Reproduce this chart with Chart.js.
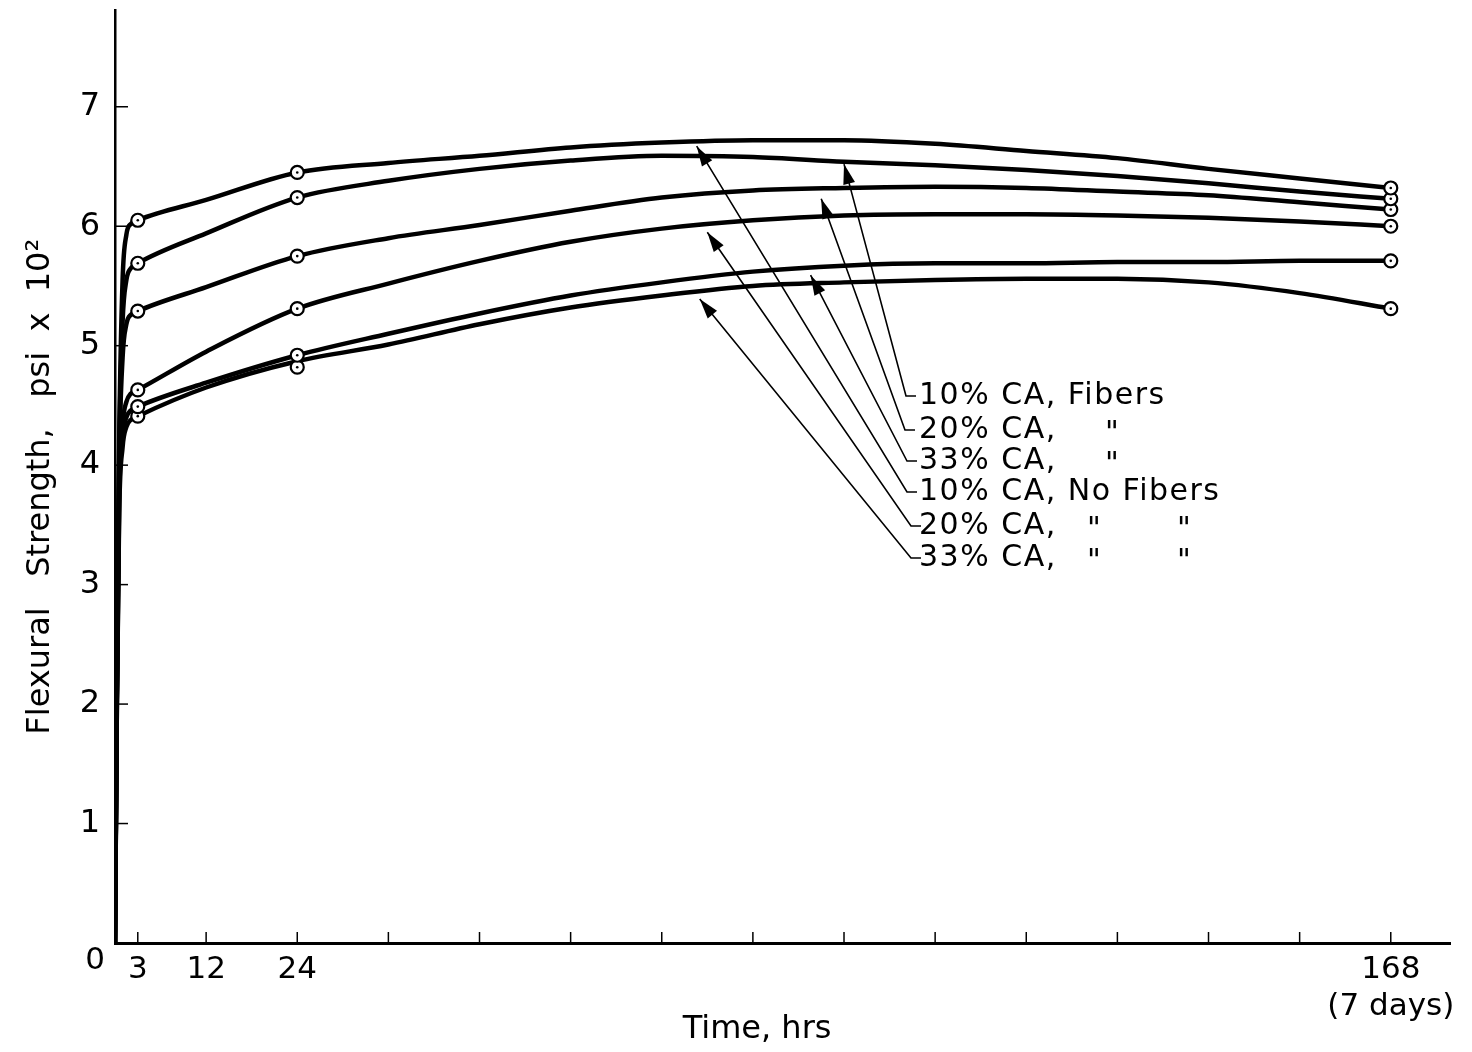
<!DOCTYPE html>
<html>
<head>
<meta charset="utf-8">
<script src="https://cdn.jsdelivr.net/npm/chart.js@4.4.0/dist/chart.umd.min.js"></script>
<style>
  html, body { margin: 0; padding: 0; background: #fff; }
  #wrap { width: 1472px; height: 1052px; }
</style>
</head>
<body>
<div id="wrap"><canvas id="flexChart" width="1472" height="1052"></canvas></div>
<script>
const curveHours = [0, 0.25, 0.55, 1.0, 1.5, 2.1, 3, 12, 24, 36, 48, 60, 72, 84, 96, 108, 120, 132, 144, 156, 168];
// hours of the measured points (circles)
const pointHours = [3, 24, 168];

const xTickHours = [0, 3, 12, 24, 36, 48, 60, 72, 84, 96, 108, 120, 132, 144, 156, 168];
const yTickValues = [0, 1, 2, 3, 4, 5, 6, 7];

// flexural strength, psi x 10^2
const ca10NoFibersCurve = [0, 2.2, 4.2, 5.55, 5.93, 6.02, 6.05, 6.22, 6.45, 6.53, 6.59, 6.66, 6.70, 6.72, 6.72, 6.69, 6.63, 6.57, 6.48, 6.40, 6.32];
const ca10FibersCurve   = [0, 2.2, 4.1, 5.2, 5.55, 5.65, 5.69, 5.94, 6.24, 6.38, 6.48, 6.55, 6.59, 6.58, 6.54, 6.51, 6.47, 6.42, 6.36, 6.29, 6.23];
const ca20FibersCurve   = [0, 2.2, 4.0, 4.9, 5.18, 5.26, 5.29, 5.49, 5.75, 5.90, 6.01, 6.13, 6.24, 6.30, 6.32, 6.33, 6.32, 6.29, 6.26, 6.20, 6.14];
const ca20NoFibersCurve = [0, 2.1, 3.8, 4.35, 4.53, 4.60, 4.63, 4.95, 5.31, 5.52, 5.71, 5.87, 5.98, 6.05, 6.09, 6.10, 6.10, 6.09, 6.07, 6.04, 6.00];
const ca33FibersCurve   = [0, 2.0, 3.7, 4.25, 4.40, 4.46, 4.49, 4.69, 4.92, 5.10, 5.27, 5.42, 5.53, 5.62, 5.67, 5.69, 5.69, 5.70, 5.70, 5.71, 5.71];
const ca33NoFibersCurve = [0, 2.0, 3.6, 4.15, 4.32, 4.38, 4.41, 4.65, 4.87, 5.01, 5.18, 5.32, 5.42, 5.50, 5.53, 5.55, 5.56, 5.56, 5.53, 5.44, 5.31];

const ca10NoFibersPts = [6.05, 6.45, 6.32];
const ca10FibersPts   = [5.69, 6.24, 6.23];
const ca20FibersPts   = [5.29, 5.75, 6.14];
const ca20NoFibersPts = [4.63, 5.31, 6.00];
const ca33FibersPts   = [4.49, 4.92, 5.71];
const ca33NoFibersPts = [4.41, 4.82, 5.31];

// legend rows, top to bottom, and where each arrow points (hours, value)
const legendText = ["10% CA, Fibers", "20% CA,", "33% CA,", "10% CA, No Fibers", "20% CA,", "33% CA,"];
const arrowTargets = [[96, 6.52], [93, 6.23], [91.6, 5.59], [76.6, 6.67], [78, 5.95], [77, 5.39]];

const series = [
  { curve: ca10NoFibersCurve, pts: ca10NoFibersPts },
  { curve: ca10FibersCurve, pts: ca10FibersPts },
  { curve: ca20FibersCurve, pts: ca20FibersPts },
  { curve: ca20NoFibersCurve, pts: ca20NoFibersPts },
  { curve: ca33FibersCurve, pts: ca33FibersPts },
  { curve: ca33NoFibersCurve, pts: ca33NoFibersPts }
];

const FONT = '"DejaVu Sans", sans-serif';

const datasets = [];
series.forEach((s) => {
  datasets.push({
    data: curveHours.map((h, i) => ({ x: h, y: s.curve[i] })),
    borderColor: "#000",
    borderWidth: 4.5,
    pointRadius: 0,
    cubicInterpolationMode: "monotone",
    fill: false,
    order: 3
  });
  datasets.push({
    data: pointHours.map((h, i) => ({ x: h, y: s.pts[i] })),
    showLine: false,
    pointRadius: 6.5,
    pointBorderWidth: 2.2,
    pointBackgroundColor: "#fff",
    pointBorderColor: "#000",
    order: 2
  });
  datasets.push({
    data: pointHours.map((h, i) => ({ x: h, y: s.pts[i] })),
    showLine: false,
    pointRadius: 1.3,
    pointBorderWidth: 0,
    pointBackgroundColor: "#000",
    order: 1
  });
});

// short ticks pointing into the plot + the origin "0"
const innerTicks = {
  id: "innerTicks",
  afterDraw(chart) {
    const { ctx, scales: { x, y } } = chart;
    ctx.save();
    ctx.strokeStyle = "#000";
    ctx.lineWidth = 1.5;
    xTickHours.slice(1).forEach((h) => {
      const px = x.getPixelForValue(h);
      ctx.beginPath();
      ctx.moveTo(px, y.bottom);
      ctx.lineTo(px, y.bottom - 11);
      ctx.stroke();
    });
    yTickValues.slice(1).forEach((v) => {
      const py = y.getPixelForValue(v);
      ctx.beginPath();
      ctx.moveTo(x.left, py);
      ctx.lineTo(x.left + 13, py);
      ctx.stroke();
    });
    ctx.fillStyle = "#000";
    ctx.font = "31px " + FONT;
    ctx.textAlign = "center";
    ctx.textBaseline = "middle";
    ctx.fillText("0", x.getPixelForValue(0) - 20, y.bottom + 18);
    ctx.restore();
  }
};

// legend with leader lines and arrows
const arrowLegend = {
  id: "arrowLegend",
  afterDraw(chart) {
    const { ctx, scales: { x, y } } = chart;
    const rowY = [396, 430, 461, 492, 526, 558];
    const cornerX = [906, 905, 907, 907, 911, 911];
    ctx.save();
    ctx.strokeStyle = "#000";
    ctx.fillStyle = "#000";
    ctx.lineWidth = 1.6;
    legendText.forEach((t, i) => {
      const tx = x.getPixelForValue(arrowTargets[i][0]);
      const ty = y.getPixelForValue(arrowTargets[i][1]);
      const cx = cornerX[i], cy = rowY[i];
      ctx.beginPath();
      ctx.moveTo(cx + 10, cy);
      ctx.lineTo(cx, cy);
      ctx.lineTo(tx, ty);
      ctx.stroke();
      // arrow head
      const ang = Math.atan2(ty - cy, tx - cx);
      const len = 20, half = 6;
      ctx.beginPath();
      ctx.moveTo(tx, ty);
      ctx.lineTo(tx - len * Math.cos(ang) + half * Math.sin(ang), ty - len * Math.sin(ang) - half * Math.cos(ang));
      ctx.lineTo(tx - len * Math.cos(ang) - half * Math.sin(ang), ty - len * Math.sin(ang) + half * Math.cos(ang));
      ctx.closePath();
      ctx.fill();
    });
    ctx.font = "30px " + FONT;
    ctx.letterSpacing = "1.5px";
    ctx.textAlign = "left";
    ctx.textBaseline = "middle";
    legendText.forEach((t, i) => {
      ctx.fillText(t, 919, rowY[i]);
    });
    ctx.letterSpacing = "0px";
    ctx.textAlign = "center";
    ctx.fillText('"', 1112, rowY[1] + 4);
    ctx.fillText('"', 1112, rowY[2] + 4);
    ctx.fillText('"', 1094, rowY[4] + 4);
    ctx.fillText('"', 1184, rowY[4] + 4);
    ctx.fillText('"', 1094, rowY[5] + 4);
    ctx.fillText('"', 1184, rowY[5] + 4);
    ctx.restore();
  }
};

function noEdgePadding(s) {
  s.paddingTop = 0;
  s.paddingBottom = 0;
  s.paddingLeft = 0;
  s.paddingRight = 0;
}

const ctx = document.getElementById("flexChart").getContext("2d");
new Chart(ctx, {
  type: "line",
  data: { datasets: datasets },
  options: {
    responsive: false,
    animation: false,
    layout: { padding: { top: 10, right: 22, left: 0, bottom: 0 } },
    plugins: {
      legend: { display: false },
      tooltip: { enabled: false }
    },
    scales: {
      x: {
        type: "linear",
        min: 0,
        max: 175.8,
        afterBuildTicks: (s) => { s.ticks = xTickHours.map((v) => ({ value: v })); },
        afterFit: (s) => { s.height = 109; noEdgePadding(s); },
        grid: { display: false, drawTicks: false },
        border: { display: true, color: "#000", width: 3 },
        ticks: {
          autoSkip: false,
          maxRotation: 0,
          padding: 8,
          color: "#000",
          font: { family: FONT, size: 31 },
          callback: (v) => {
            if (v === 168) return ["168", "(7 days)"];
            if (v === 3 || v === 12 || v === 24) return String(v);
            return "";
          }
        },
        title: {
          display: true,
          text: "Time, hrs     ",
          color: "#000",
          font: { family: FONT, size: 32 },
          padding: { top: 0, bottom: 3 }
        }
      },
      y: {
        min: 0,
        max: 7.81,
        afterBuildTicks: (s) => { s.ticks = yTickValues.map((v) => ({ value: v })); },
        afterFit: (s) => { s.width = 115; noEdgePadding(s); },
        grid: { display: false, drawTicks: false },
        border: { display: true, color: "#000", width: 2.5 },
        ticks: {
          padding: 15,
          color: "#000",
          font: { family: FONT, size: 32 },
          callback: (v) => (v === 0 ? "" : String(v))
        },
        title: {
          display: true,
          text: "Flexural   Strength,   psi  x  10²  ",
          color: "#000",
          font: { family: FONT, size: 32 },
          padding: { top: 21, bottom: 0 }
        }
      }
    }
  },
  plugins: [innerTicks, arrowLegend]
});
</script>
</body>
</html>
